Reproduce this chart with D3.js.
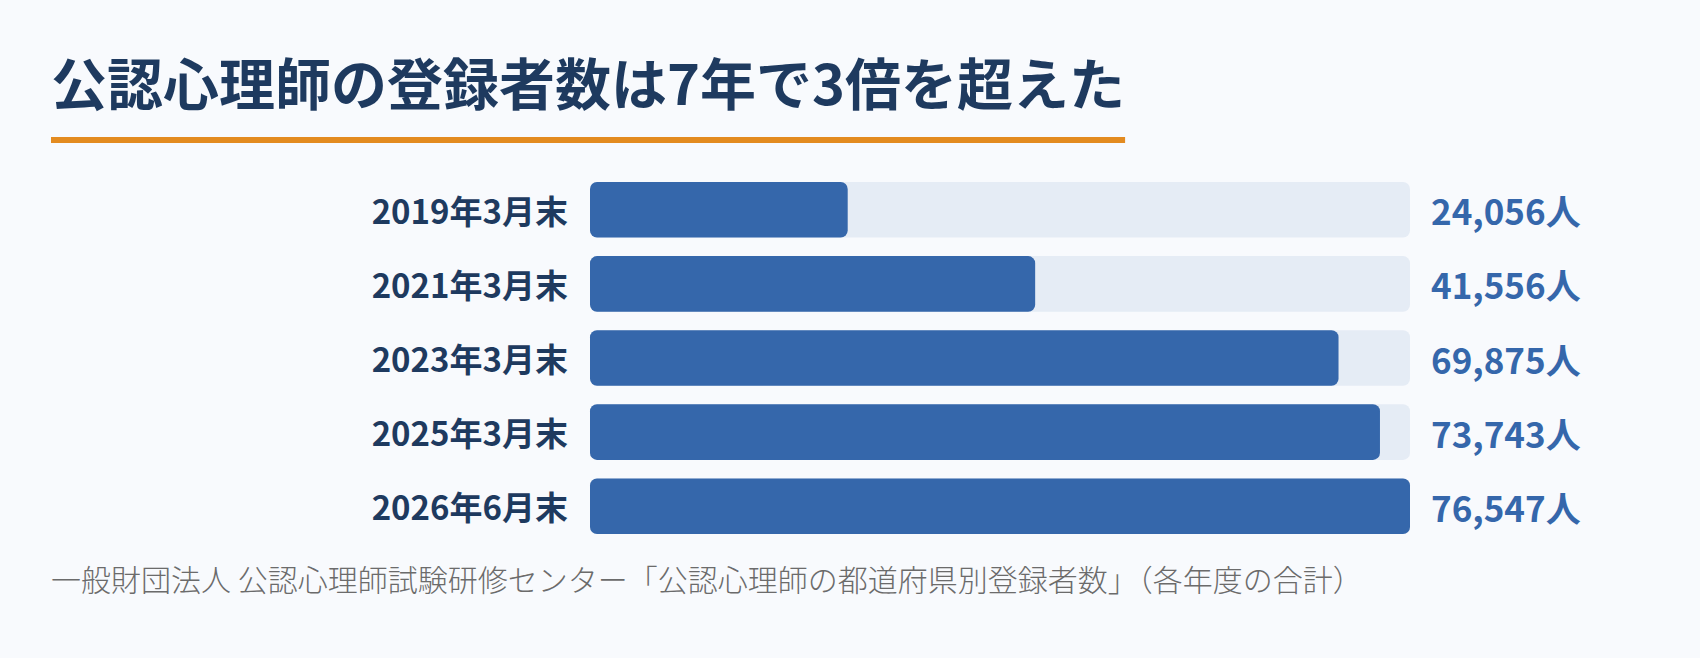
<!DOCTYPE html>
<html><head><meta charset="utf-8">
<script src="https://cdn.jsdelivr.net/npm/d3@7"></script>
<style>
html,body{margin:0;padding:0;background:#f8fafd;}
svg{display:block;}
text{font-family:"Noto Sans CJK JP","Noto Sans",sans-serif;}
</style></head>
<body>
<svg id="chart" width="1700" height="658"></svg>
<script>
const title = "公認心理師の登録者数は7年で3倍を超えた";
const categories = ["2019年3月末","2021年3月末","2023年3月末","2025年3月末","2026年6月末"];
const values = [24056, 41556, 69875, 73743, 76547];
const valueLabels = ["24,056人","41,556人","69,875人","73,743人","76,547人"];
const source = "一般財団法人 公認心理師試験研修センター「公認心理師の都道府県別登録者数」（各年度の合計）";

const svg = d3.select("#chart");
svg.append("rect").attr("width",1700).attr("height",658).attr("fill","#f8fafd");

const t = svg.append("text").attr("x",51).attr("y",80)
  .attr("dominant-baseline","central")
  .attr("font-size",56).attr("font-weight",700).attr("fill","#1e3a5f")
  .text(title);
const tw = t.node().getComputedTextLength();
svg.append("rect").attr("x",51).attr("y",137).attr("width",tw).attr("height",6).attr("fill","#e38b20");

const x = d3.scaleLinear().domain([0, d3.max(values)]).range([590, 1410]);
const y = d3.scaleBand().domain(categories).range([182, 534]).paddingInner(0.25).paddingOuter(0);

const rows = svg.selectAll("g.row").data(categories).join("g").attr("class","row");
rows.append("rect").attr("x",x(0)).attr("y",d=>y(d)).attr("width",x.range()[1]-x(0))
  .attr("height",y.bandwidth()).attr("rx",7).attr("fill","#e5ecf5");
rows.append("rect").attr("x",x(0)).attr("y",d=>y(d)).attr("width",(d,i)=>x(values[i])-x(0))
  .attr("height",y.bandwidth()).attr("rx",7).attr("fill","#3567ab");
rows.append("text").attr("x",568).attr("y",d=>y(d)+y.bandwidth()/2)
  .attr("text-anchor","end").attr("dominant-baseline","central")
  .attr("font-size",33).attr("font-weight",700).attr("fill","#1e3a5f").text(d=>d);
rows.append("text").attr("x",1431).attr("y",d=>y(d)+y.bandwidth()/2)
  .attr("dominant-baseline","central")
  .attr("font-size",35).attr("font-weight",700).attr("fill","#3567ab").text((d,i)=>valueLabels[i]);

svg.append("text").attr("x",51).attr("y",578).attr("dominant-baseline","central")
  .attr("font-size",30).attr("font-weight",300).attr("fill","#6b6b6b").text(source);
</script>
</body></html>
